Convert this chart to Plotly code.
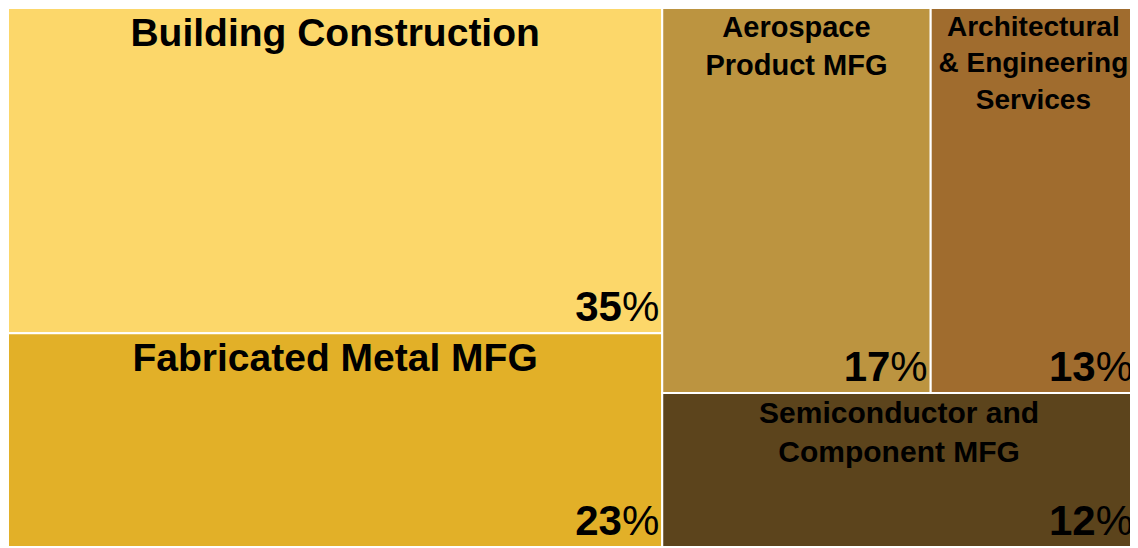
import plotly.graph_objects as go

labels = ["Building Construction", "Fabricated Metal MFG", "Aerospace Product MFG",
          "Architectural & Engineering Services", "Semiconductor and Component MFG"]
display_labels = ["Building Construction", "Fabricated Metal MFG", "Aerospace<br>Product MFG",
                  "Architectural<br>& Engineering<br>Services", "Semiconductor and<br>Component MFG"]
shares = [35, 23, 17, 13, 12]
colors = ["#FCD76A", "#E2B028", "#BC9440", "#A06C2E", "#5C441C"]
label_sizes = [39, 39, 29, 28, 30]
parents = [""] * len(labels)

common = dict(
    labels=labels, parents=parents, values=shares,
    tiling=dict(packing="squarify", squarifyratio=1.618, pad=0),
    pathbar=dict(visible=False),
    sort=True,
)

fig = go.Figure()
fig.add_trace(go.Treemap(
    **common,
    text=display_labels,
    texttemplate="<b>%{text}</b>",
    textposition="top center",
    textfont=dict(family="Liberation Sans, Arial, sans-serif", color="black", size=label_sizes),
    marker=dict(colors=colors, line=dict(color="white", width=2), pad=dict(t=0, l=0, r=0, b=0)),
    hoverinfo="label+value",
))
fig.add_trace(go.Treemap(
    **common,
    texttemplate="<b>%{value}</b>%",
    textposition="bottom right",
    textfont=dict(family="Liberation Sans, Arial, sans-serif", color="black", size=42),
    marker=dict(colors=["rgba(0,0,0,0)"] * len(labels), line=dict(color="rgba(0,0,0,0)", width=2),
                pad=dict(t=0, l=0, r=0, b=0)),
    hoverinfo="skip",
))
fig.update_layout(
    width=1128, height=539,
    margin=dict(l=0, r=0, t=0, b=0),
    paper_bgcolor="white",
    showlegend=False,
)
fig.write_html("out.html")
